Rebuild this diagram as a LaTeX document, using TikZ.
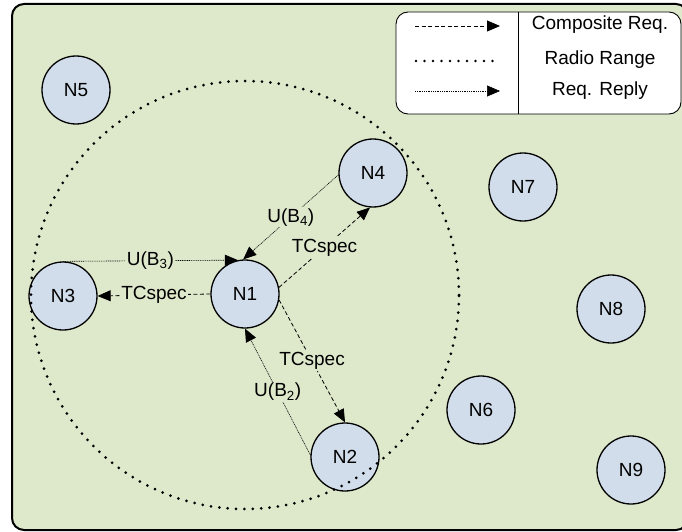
\documentclass[tikz,border=0pt]{standalone}
\usepackage{fontspec}
\setmainfont{Liberation Sans}
\usetikzlibrary{arrows.meta}
\definecolor{fieldgreen}{RGB}{222,232,203}
\definecolor{nodeblue}{RGB}{209,221,234}
\tikzset{
  txt/.style={font=\fontsize{19}{22}\selectfont},
  mote/.style={circle, draw, line width=1.3pt, fill=nodeblue, minimum size=68pt, inner sep=0pt, txt},
  head/.style={-{Triangle[length=13pt,width=11pt]}},
  request/.style={line width=0.8pt, dash pattern=on 4pt off 2.5pt, head},
  reply/.style={line width=0.6pt, dash pattern=on 1pt off 0.8pt, head},
  rangering/.style={line width=3pt, line cap=round, dash pattern=on 0pt off 8.4pt},
  tag/.style={fill=fieldgreen, inner sep=1.5pt, txt},
}
\begin{document}
\begin{tikzpicture}[x=1pt, y=-1pt]
  \useasboundingbox (0,0) rectangle (682,532);
  % field
  \draw[line width=2pt, rounded corners=12pt, fill=fieldgreen] (12,4) rectangle (688,530);

  % legend
  \draw[line width=0.9pt, rounded corners=12pt, fill=white] (396,12) rectangle (681,114);
  \draw[line width=0.9pt] (518,12) -- (518,114);
  \coordinate (la1) at (415,26);  \coordinate (lb1) at (500,26);
  \coordinate (la2) at (416,61);  \coordinate (lb2) at (493,61);
  \coordinate (la3) at (415,91);  \coordinate (lb3) at (500,91);
  \draw[request] (la1) -- (lb1);
  \draw[line width=2.6pt, line cap=round, dash pattern=on 0pt off 8.5pt] (la2) -- (lb2);
  \draw[reply] (la3) -- (lb3);
  \node[txt] (lt1) at (600,25) {Composite Req.};
  \node[txt] (lt2) at (600,60) {Radio Range};
  \node[txt] (lt3) at (600,91) {Req. Reply};

  % nodes
  \node[mote] (N1) at (245,294) {N1};
  \node[mote] (N2) at (345,457) {N2};
  \node[mote] (N3) at (63,296) {N3};
  \node[mote] (N4) at (373,173) {N4};
  \node[mote] (N5) at (76,90) {N5};
  \node[mote] (N6) at (481,410) {N6};
  \node[mote] (N7) at (523,187) {N7};
  \node[mote] (N8) at (611,309) {N8};
  \node[mote] (N9) at (631,470) {N9};

  % messages
  \draw[reply] (N3.north) -- node[tag] {U(B\textsubscript{3})} (N1.102);
  \draw[request] (N1.west) -- node[tag] {TCspec} (N3.east);
  \draw[reply] (N4.183) -- node[tag] {U(B\textsubscript{4})} (N1.93);
  \draw[request] (N1.11) -- node[tag] {TCspec} (N4.265);
  \draw[request] (N1.-10) -- node[tag] {TCspec} (N2.north);
  \draw[reply] (N2.177) -- node[tag] {U(B\textsubscript{2})} (N1.270);

  % radio range of N1
  \draw[rangering] (245,295) circle (214pt);
\end{tikzpicture}
\end{document}
